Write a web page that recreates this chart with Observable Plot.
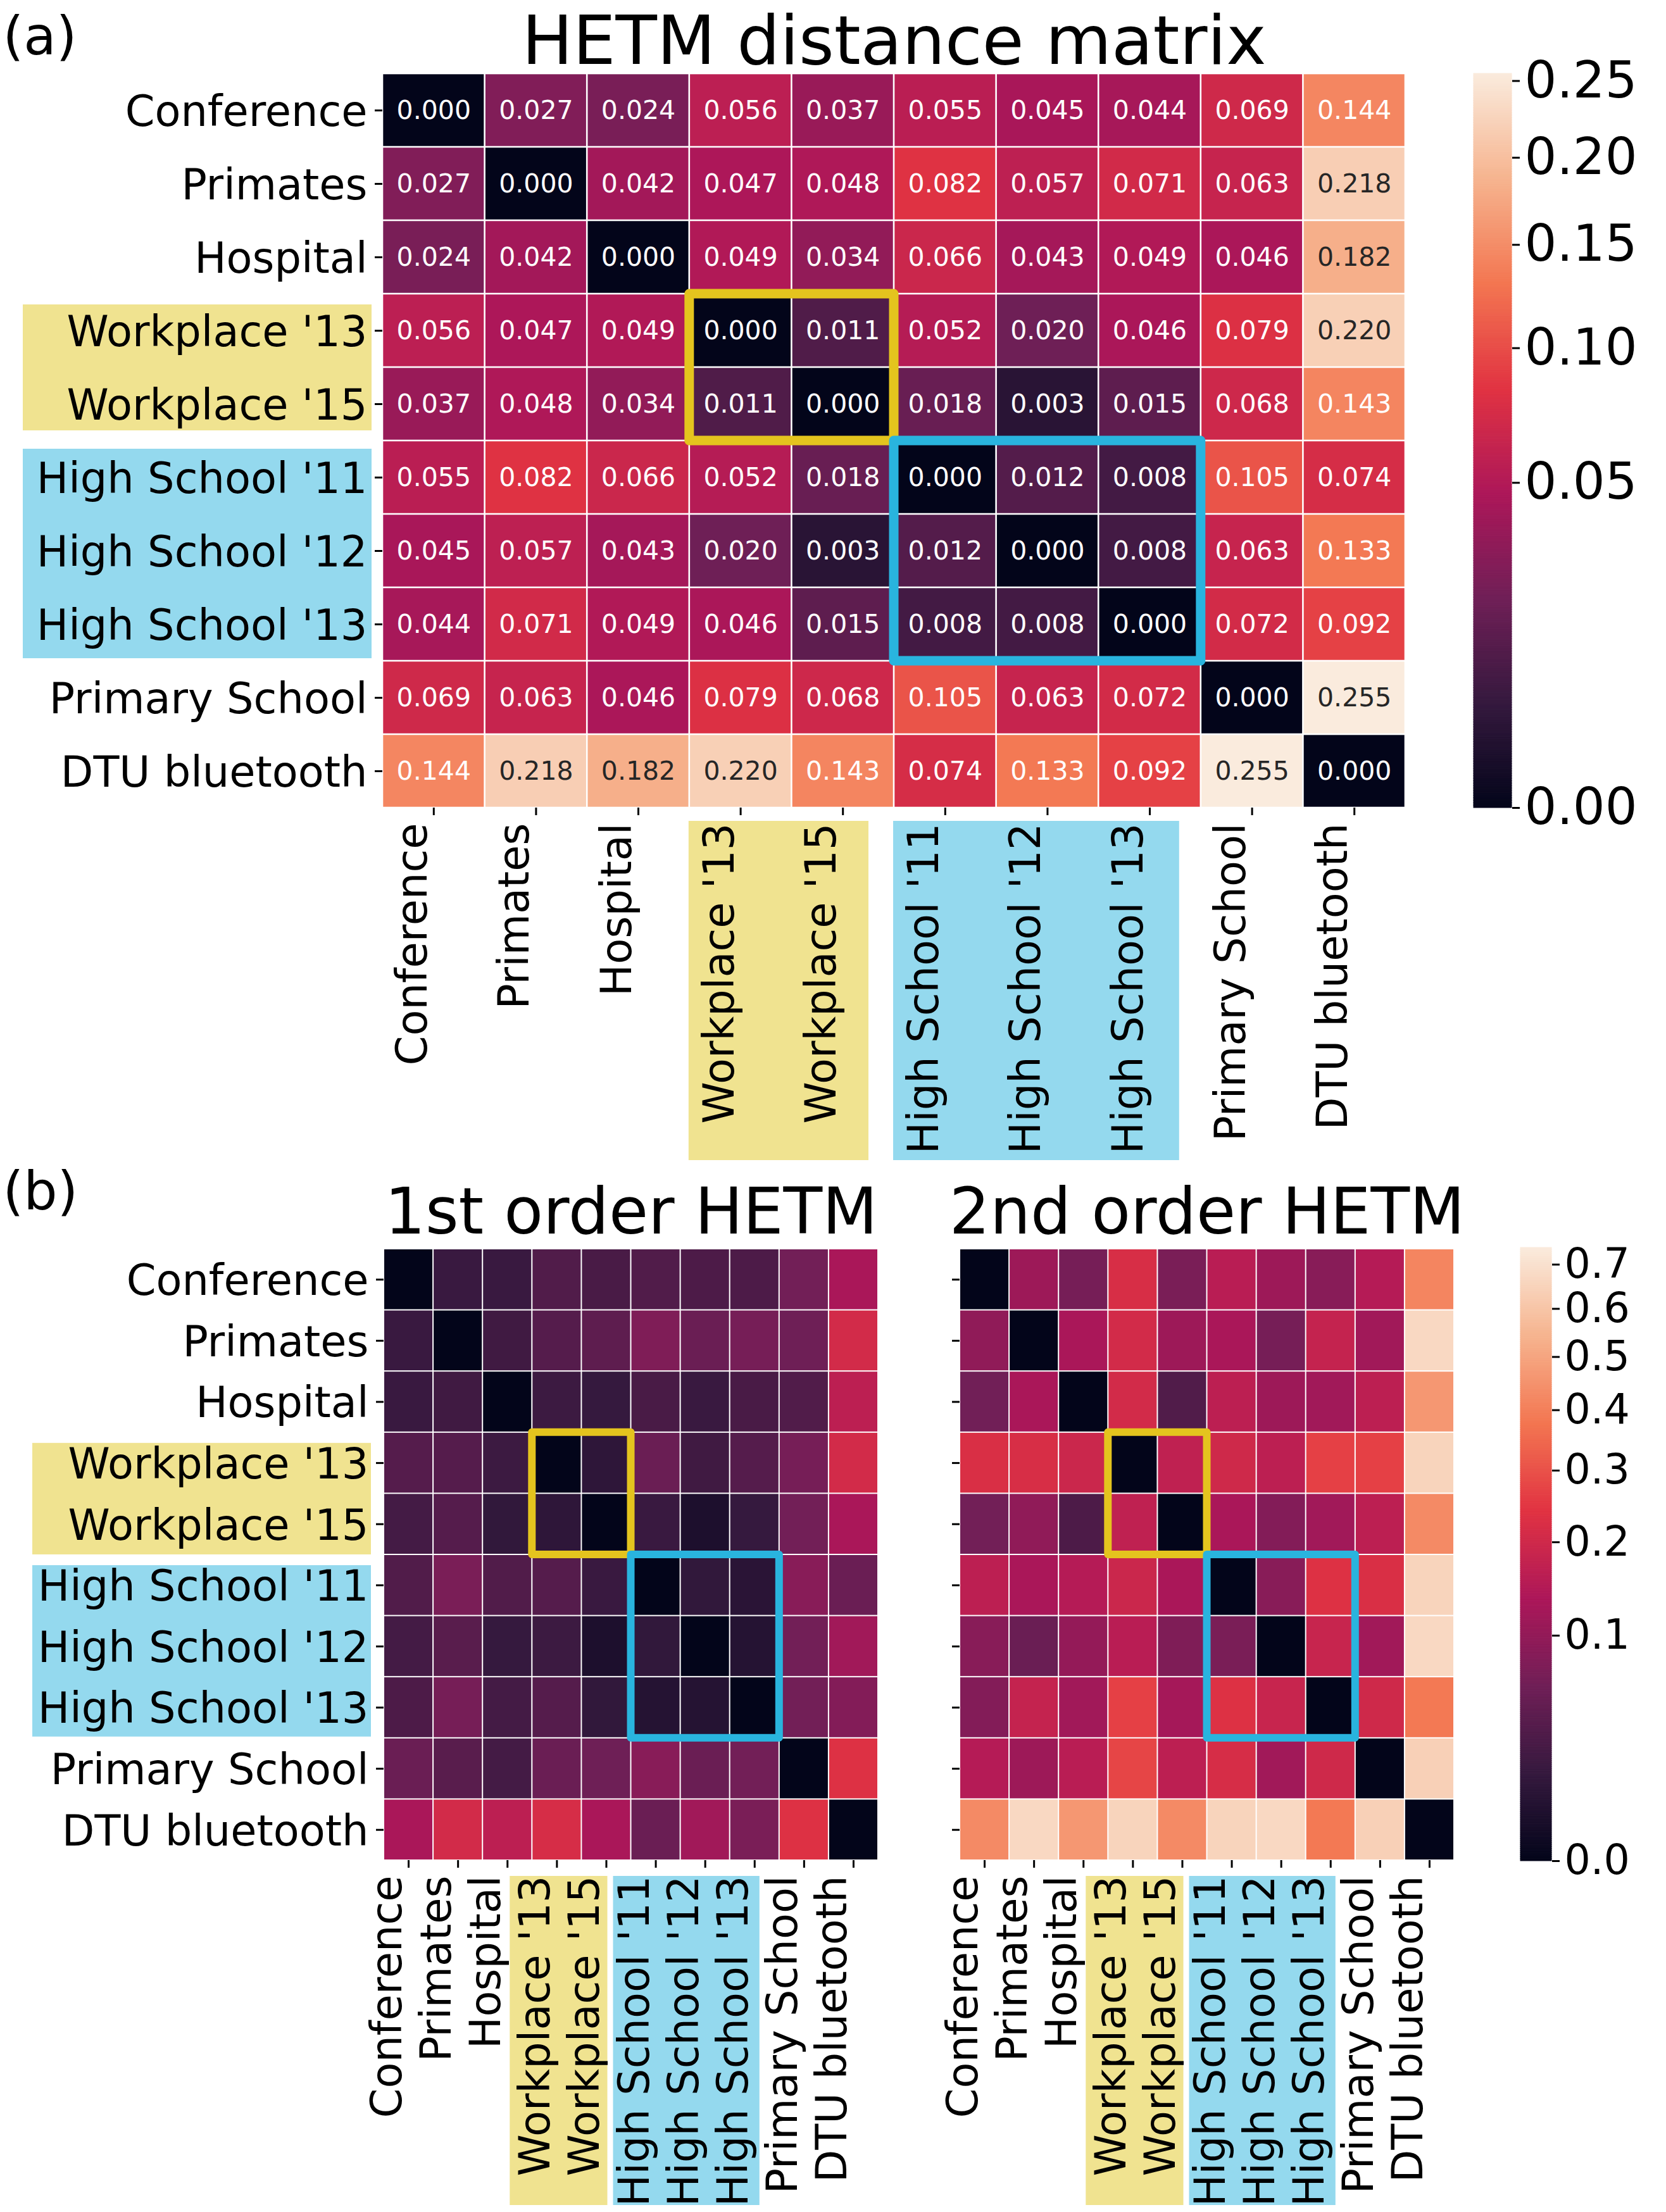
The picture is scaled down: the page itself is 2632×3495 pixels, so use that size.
<!DOCTYPE html>
<html>
<head>
<meta charset="utf-8">
<script src="https://cdn.jsdelivr.net/npm/d3@7"></script>
<script src="https://cdn.jsdelivr.net/npm/@observablehq/plot@0.6"></script>
<style>
  html, body { margin: 0; padding: 0; background: #ffffff; }
  #fig { position: relative; width: 2632px; height: 3495px; background: #ffffff; font-family: "DejaVu Sans", sans-serif; overflow: hidden; }
  #fig > svg { position: absolute; overflow: visible; }
</style>
</head>
<body>
<div id="fig"></div>
<script>
// ---------------- data ----------------
const datasets = ["Conference", "Primates", "Hospital", "Workplace '13", "Workplace '15",
  "High School '11", "High School '12", "High School '13", "Primary School", "DTU bluetooth"];

// (a) HETM distance matrix (annotated values)
const hetm = [
  [0.000, 0.027, 0.024, 0.056, 0.037, 0.055, 0.045, 0.044, 0.069, 0.144],
  [0.027, 0.000, 0.042, 0.047, 0.048, 0.082, 0.057, 0.071, 0.063, 0.218],
  [0.024, 0.042, 0.000, 0.049, 0.034, 0.066, 0.043, 0.049, 0.046, 0.182],
  [0.056, 0.047, 0.049, 0.000, 0.011, 0.052, 0.020, 0.046, 0.079, 0.220],
  [0.037, 0.048, 0.034, 0.011, 0.000, 0.018, 0.003, 0.015, 0.068, 0.143],
  [0.055, 0.082, 0.066, 0.052, 0.018, 0.000, 0.012, 0.008, 0.105, 0.074],
  [0.045, 0.057, 0.043, 0.020, 0.003, 0.012, 0.000, 0.008, 0.063, 0.133],
  [0.044, 0.071, 0.049, 0.046, 0.015, 0.008, 0.008, 0.000, 0.072, 0.092],
  [0.069, 0.063, 0.046, 0.079, 0.068, 0.105, 0.063, 0.072, 0.000, 0.255],
  [0.144, 0.218, 0.182, 0.220, 0.143, 0.074, 0.133, 0.092, 0.255, 0.000]
];

// (b) 1st order HETM (estimated from colours)
const firstOrder = [
  [0.000, 0.017, 0.017, 0.033, 0.027, 0.033, 0.030, 0.030, 0.062, 0.131],
  [0.017, 0.000, 0.021, 0.036, 0.043, 0.076, 0.054, 0.067, 0.058, 0.208],
  [0.017, 0.021, 0.000, 0.019, 0.015, 0.027, 0.017, 0.027, 0.033, 0.163],
  [0.036, 0.036, 0.019, 0.000, 0.011, 0.054, 0.021, 0.036, 0.067, 0.208],
  [0.024, 0.036, 0.013, 0.011, 0.000, 0.017, 0.004, 0.015, 0.062, 0.131],
  [0.033, 0.071, 0.033, 0.036, 0.017, 0.000, 0.013, 0.009, 0.086, 0.054],
  [0.024, 0.039, 0.015, 0.019, 0.004, 0.013, 0.000, 0.007, 0.062, 0.118],
  [0.030, 0.067, 0.024, 0.036, 0.013, 0.007, 0.007, 0.000, 0.062, 0.081],
  [0.054, 0.039, 0.024, 0.054, 0.058, 0.086, 0.054, 0.062, 0.000, 0.232],
  [0.131, 0.208, 0.163, 0.216, 0.131, 0.054, 0.118, 0.071, 0.232, 0.000]
];

// (b) 2nd order HETM (estimated from colours)
const secondOrder = [
  [0.000, 0.113, 0.067, 0.220, 0.071, 0.157, 0.113, 0.086, 0.150, 0.416],
  [0.096, 0.000, 0.131, 0.208, 0.113, 0.131, 0.067, 0.178, 0.118, 0.668],
  [0.061, 0.131, 0.000, 0.208, 0.033, 0.163, 0.113, 0.118, 0.163, 0.462],
  [0.224, 0.220, 0.192, 0.000, 0.170, 0.200, 0.163, 0.266, 0.266, 0.654],
  [0.062, 0.096, 0.030, 0.170, 0.000, 0.131, 0.081, 0.118, 0.163, 0.427],
  [0.163, 0.131, 0.150, 0.192, 0.131, 0.000, 0.086, 0.232, 0.224, 0.654],
  [0.086, 0.054, 0.101, 0.157, 0.076, 0.071, 0.000, 0.185, 0.118, 0.668],
  [0.081, 0.178, 0.118, 0.266, 0.124, 0.232, 0.185, 0.000, 0.200, 0.384],
  [0.150, 0.113, 0.157, 0.275, 0.163, 0.216, 0.118, 0.200, 0.000, 0.640],
  [0.427, 0.668, 0.462, 0.654, 0.427, 0.654, 0.668, 0.384, 0.640, 0.000]
];

// highlighted groups (row/column index ranges)
const groups = [
  { name: "Workplace", start: 3, end: 5 },
  { name: "High School", start: 5, end: 8 }
];

const ticksA = [0.00, 0.05, 0.10, 0.15, 0.20, 0.25];
const ticksB = [0.0, 0.1, 0.2, 0.3, 0.4, 0.5, 0.6, 0.7];
const vmaxA = d3.max(hetm.flat());
const vmaxB = 0.74;

// ---------------- styles ----------------
const FONT = "DejaVu Sans";
const rocketStops = ["#03051a", "#35193e", "#701f57", "#ad1759", "#e13342", "#f37651", "#f6b48f", "#faebdd"];
const rocket = d3.piecewise(d3.interpolateRgb, rocketStops);
const groupBg = { "Workplace": "#f0e390", "High School": "#94d9ee" };
const groupEdge = { "Workplace": "#e4c41e", "High School": "#29b4de" };

const fig = document.getElementById("fig");
function place(el, left, top) {
  el.style.position = "absolute";
  el.style.left = left + "px";
  el.style.top = top + "px";
  fig.appendChild(el);
}

function toCells(m) {
  const out = [];
  m.forEach((row, i) => row.forEach((v, j) => out.push({ i, j, v })));
  return out;
}

// geometry configuration per panel
const cfgA = {
  cellInset: 1.3, hlWidth: 15,
  yBox: { "Workplace": [17, 16], "High School": [13, 4] }, yBoxLeft: -568, yBoxRight: 17,
  xBox: { "Workplace": [-1, 40], "High School": [-1, 34] }, xBoxTop: 21, xBoxBottom: -557
};
const cfgB = {
  cellInset: 1, hlWidth: 12,
  yBox: { "Workplace": [17, 0], "High School": [17, 2] }, yBoxLeft: -555, yBoxRight: 20,
  xBox: { "Workplace": [-35, 37], "High School": [-28, 31] }, xBoxTop: 25, xBoxBottom: -545
};

function heatmap(o) {
  const cfg = o.cfg;
  const n = datasets.length;
  const cells = toCells(o.matrix);
  const tickPos = d3.range(n).map(i => i + 0.5);
  const marks = [];

  // label background boxes (y side)
  if (o.yLabels) {
    for (const g of groups) {
      marks.push(Plot.rect([g], {
        x1: 0, x2: 0, y1: d => d.start, y2: d => d.end,
        fill: groupBg[g.name],
        insetLeft: cfg.yBoxLeft, insetRight: cfg.yBoxRight,
        insetTop: cfg.yBox[g.name][0], insetBottom: cfg.yBox[g.name][1]
      }));
    }
  }
  // label background boxes (x side)
  for (const g of groups) {
    marks.push(Plot.rect([g], {
      x1: d => d.start, x2: d => d.end, y1: n, y2: n,
      fill: groupBg[g.name],
      insetLeft: cfg.xBox[g.name][0], insetRight: cfg.xBox[g.name][1],
      insetTop: cfg.xBoxTop, insetBottom: cfg.xBoxBottom
    }));
  }

  // heatmap cells
  marks.push(Plot.rect(cells, {
    x1: d => d.j, x2: d => d.j + 1, y1: d => d.i, y2: d => d.i + 1,
    fill: d => d.v, inset: cfg.cellInset
  }));

  // annotations
  if (o.annotate) {
    const fmt = d3.format(".3f");
    marks.push(Plot.text(cells.filter(d => d.v <= 0.16), {
      x: d => d.j + 0.5, y: d => d.i + 0.5, text: d => fmt(d.v),
      fill: "white", fontSize: 41
    }));
    marks.push(Plot.text(cells.filter(d => d.v > 0.16), {
      x: d => d.j + 0.5, y: d => d.i + 0.5, text: d => fmt(d.v),
      fill: "#262626", fontSize: 41
    }));
  }

  // group highlight rectangles
  for (const g of groups) {
    marks.push(Plot.rect([g], {
      x1: d => d.start, x2: d => d.end, y1: d => d.start, y2: d => d.end,
      fill: "none", stroke: groupEdge[g.name], strokeWidth: cfg.hlWidth, strokeLinejoin: "round"
    }));
  }

  // tick marks
  marks.push(Plot.axisY({ ticks: tickPos, tickSize: 12, tickFormat: () => "", strokeWidth: 3, label: null }));
  marks.push(Plot.axisX({ ticks: tickPos, tickSize: 12, tickFormat: () => "", strokeWidth: 3, label: null }));

  // tick labels
  if (o.yLabels) {
    marks.push(Plot.text(datasets, {
      y: (d, i) => i + 0.5, text: d => d, frameAnchor: "left", textAnchor: "end",
      dx: -24, dy: 3, fontSize: 67, fill: "black"
    }));
  }
  marks.push(Plot.text(datasets, {
    x: (d, i) => i + 0.5, text: d => d, frameAnchor: "bottom", rotate: -90,
    textAnchor: "end", lineAnchor: "middle", dx: -33, dy: 24, fontSize: 67, fill: "black"
  }));

  // title
  marks.push(Plot.text([o.title], {
    text: d => d, frameAnchor: "top", lineAnchor: "bottom", dy: o.titleDy, fontSize: o.titleSize, fill: "black"
  }));
  // panel label
  if (o.panel) {
    marks.push(Plot.text([o.panel.text], {
      text: d => d, frameAnchor: "top-left", textAnchor: "start", lineAnchor: "bottom",
      dx: o.panel.dx, dy: o.panel.dy, fontSize: 84, fill: "black"
    }));
  }

  return Plot.plot({
    width: o.width, height: o.height,
    marginLeft: o.ml, marginRight: o.mr, marginTop: o.mt, marginBottom: o.mb,
    x: { type: "linear", domain: [0, n], axis: null },
    y: { type: "linear", domain: [0, n], reverse: true, axis: null },
    color: { type: "sqrt", domain: [0, o.vmax], interpolate: rocket },
    style: { fontFamily: FONT, background: "transparent", overflow: "visible" },
    marks
  });
}

function colorbar(o) {
  const N = 300;
  const stops = d3.range(N).map(k => ({
    a: o.vmax * (k / N) ** 2, b: o.vmax * ((k + 1) / N) ** 2, m: o.vmax * ((k + 0.5) / N) ** 2
  }));
  return Plot.plot({
    width: o.width, height: o.height,
    marginLeft: o.ml, marginRight: o.mr, marginTop: o.mt, marginBottom: o.mb,
    x: { domain: [0, 1], axis: null },
    y: { type: "sqrt", domain: [0, o.vmax] },
    color: { type: "sqrt", domain: [0, o.vmax], interpolate: rocket },
    style: { fontFamily: FONT, background: "transparent", overflow: "visible" },
    marks: [
      Plot.rect(stops, { x1: 0, x2: 1, y1: d => d.a, y2: d => d.b, fill: d => d.m, stroke: d => d.m, strokeWidth: 1 }),
      Plot.axisY({ anchor: "right", ticks: o.ticks, tickFormat: d3.format(o.fmt), fontSize: o.fontSize,
        tickSize: 12, tickPadding: 8, strokeWidth: 3, label: null, fill: "black" })
    ]
  });
}

// ---------------- panel (a) ----------------
place(heatmap({
  matrix: hetm, vmax: vmaxA, cfg: cfgA, annotate: true, yLabels: true,
  title: "HETM distance matrix", titleDy: -16, titleSize: 107,
  panel: { text: "(a)", dx: -600, dy: -31 },
  width: 2300, height: 1850, ml: 604, mr: 80, mt: 116, mb: 574
}), 0, 0);

place(colorbar({
  vmax: vmaxA, ticks: ticksA, fmt: ".2f", fontSize: 80,
  width: 332, height: 1340, ml: 28, mr: 244, mt: 116, mb: 64
}), 2300, 0);

// ---------------- panel (b) ----------------
place(heatmap({
  matrix: firstOrder, vmax: vmaxB, cfg: cfgB, annotate: false, yLabels: true,
  title: "1st order HETM", titleDy: -25, titleSize: 101,
  panel: { text: "(b)", dx: -602, dy: -63 },
  width: 1450, height: 1715, ml: 606, mr: 63, mt: 193, mb: 556
}), 0, 1780);

place(heatmap({
  matrix: secondOrder, vmax: vmaxB, cfg: cfgB, annotate: false, yLabels: false,
  title: "2nd order HETM", titleDy: -25, titleSize: 101,
  width: 900, height: 1715, ml: 66, mr: 53, mt: 193, mb: 556
}), 1450, 1780);

place(colorbar({
  vmax: vmaxB, ticks: ticksB, fmt: ".1f", fontSize: 65,
  width: 252, height: 1100, ml: 22, mr: 181, mt: 71, mb: 60
}), 2380, 1900);
</script>
</body>
</html>
